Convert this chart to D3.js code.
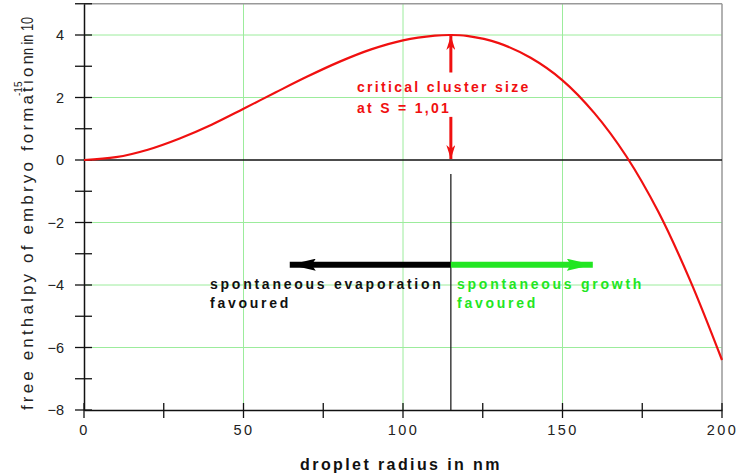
<!DOCTYPE html>
<html>
<head>
<meta charset="utf-8">
<script src="https://cdn.jsdelivr.net/npm/d3@7"></script>
<style>
  html, body { margin: 0; padding: 0; background: #fff; }
  svg { display: block; font-family: Arial, "Liberation Sans", sans-serif; }
</style>
</head>
<body>
<svg id="chart" width="737" height="475"></svg>
<script>
// Free enthalpy of embryo formation vs droplet radius
const radiusNm = [0, 10, 20, 30, 40, 50, 60, 70, 80, 90, 100, 110, 115, 120, 130, 140, 150, 160, 170, 180, 190, 200];
const enthalpy = [0, 0.09, 0.33, 0.69, 1.13, 1.64, 2.16, 2.67, 3.14, 3.54, 3.83, 3.98, 4.0, 3.97, 3.74, 3.27, 2.55, 1.5, 0.12, -1.65, -3.85, -6.4];
const xTicksMajor = [0, 50, 100, 150, 200];
const xTicksMinor = [25, 75, 125, 175];
const yTicksMajor = [-8, -6, -4, -2, 0, 2, 4];
const yTicksMinor = [-7, -5, -3, -1, 1, 3, 5];
const xGrid = [50, 100, 150];
const yGrid = [-6, -4, -2, 2, 4];
const criticalRadius = [115];
const criticalValue = [4];

const svg = d3.select("#chart");
const x = d3.scaleLinear().domain([0, 200]).range([84, 722]);
const y = d3.scaleLinear().domain([-8, 5]).range([410, 3.75]);

const RED = "#f01010", GREEN = "#22e622", GRID = "#9cec9c";

// grid
svg.append("g").selectAll("line").data(xGrid).join("line")
  .attr("x1", d => x(d)).attr("x2", d => x(d)).attr("y1", y(5)).attr("y2", y(-8))
  .attr("stroke", GRID).attr("stroke-width", 1);
svg.append("g").selectAll("line").data(yGrid).join("line")
  .attr("x1", x(0)).attr("x2", x(200)).attr("y1", d => y(d)).attr("y2", d => y(d))
  .attr("stroke", GRID).attr("stroke-width", 1);

// frame (top / right)
svg.append("line").attr("x1", x(0)).attr("x2", x(200)).attr("y1", y(5)).attr("y2", y(5))
  .attr("stroke", "#999").attr("stroke-width", 1.5);
svg.append("line").attr("x1", x(200)).attr("x2", x(200)).attr("y1", y(5)).attr("y2", y(-8))
  .attr("stroke", "#999").attr("stroke-width", 1.5);

// zero line
svg.append("line").attr("x1", x(0)).attr("x2", x(200)).attr("y1", y(0)).attr("y2", y(0))
  .attr("stroke", "#111").attr("stroke-width", 1.3);

// critical radius marker line
svg.append("line").attr("x1", x(criticalRadius[0])).attr("x2", x(criticalRadius[0]))
  .attr("y1", y(-0.45)).attr("y2", y(-8)).attr("stroke", "#222").attr("stroke-width", 1.3);

// axes
const xAxis = d3.axisBottom(x).tickValues(xTicksMajor).tickSize(0).tickPadding(15)
  .tickFormat(d3.format("d"));
const gx = svg.append("g").attr("transform", `translate(0,${y(-8)})`).call(xAxis);
gx.select(".domain").attr("stroke", "#111").attr("stroke-width", 1.5);
gx.selectAll("text").attr("font-size", 14.5).attr("letter-spacing", "2.4px").attr("fill", "#222")
  .attr("font-family", "Arial, 'Liberation Sans', sans-serif");
svg.append("g").selectAll("line").data(xTicksMajor.concat(xTicksMinor)).join("line")
  .attr("x1", d => x(d)).attr("x2", d => x(d)).attr("y1", y(-8) - 7).attr("y2", y(-8) + 8)
  .attr("stroke", "#111").attr("stroke-width", 1.3);

const yAxis = d3.axisLeft(y).tickValues(yTicksMajor).tickSize(0).tickPadding(20);
const gy = svg.append("g").attr("transform", `translate(${x(0)},0)`).call(yAxis);
gy.select(".domain").attr("stroke", "#111").attr("stroke-width", 1.5);
gy.selectAll("text").attr("font-size", 14.5).attr("fill", "#222")
  .attr("font-family", "Arial, 'Liberation Sans', sans-serif");
svg.append("g").selectAll("line").data(yTicksMajor.concat(yTicksMinor)).join("line")
  .attr("x1", x(0) - 9).attr("x2", x(0) + 8).attr("y1", d => y(d)).attr("y2", d => y(d))
  .attr("stroke", "#111").attr("stroke-width", 1.3);

// curve
const line = d3.line().x((d, i) => x(radiusNm[i])).y(d => y(d)).curve(d3.curveCatmullRom);
svg.append("path").datum(enthalpy).attr("d", line)
  .attr("fill", "none").attr("stroke", RED).attr("stroke-width", 2.2);

// arrows
const defs = svg.append("defs");
function marker(id, color, w, h) {
  defs.append("marker").attr("id", id).attr("viewBox", `0 0 ${w} ${h}`)
    .attr("refX", w).attr("refY", h / 2).attr("markerWidth", w).attr("markerHeight", h)
    .attr("markerUnits", "userSpaceOnUse").attr("orient", "auto")
    .append("path").attr("d", `M0,0L${w},${h / 2}L0,${h}L4,${h / 2}Z`).attr("fill", color);
}
marker("hRed", RED, 14, 9);
marker("hBlack", "#000", 26, 12);
marker("hGreen", GREEN, 26, 12);

const cx = x(criticalRadius[0]);
svg.append("line").attr("x1", cx).attr("x2", cx).attr("y1", y(2.8)).attr("y2", y(criticalValue[0]) + 1)
  .attr("stroke", RED).attr("stroke-width", 3).attr("marker-end", "url(#hRed)");
svg.append("line").attr("x1", cx).attr("x2", cx).attr("y1", y(1.38)).attr("y2", y(0) - 1)
  .attr("stroke", RED).attr("stroke-width", 3).attr("marker-end", "url(#hRed)");

const ay = y(-3.35);
svg.append("line").attr("x1", cx).attr("x2", x(64.5)).attr("y1", ay).attr("y2", ay)
  .attr("stroke", "#000").attr("stroke-width", 6).attr("marker-end", "url(#hBlack)");
svg.append("line").attr("x1", cx).attr("x2", x(159.5)).attr("y1", ay).attr("y2", ay)
  .attr("stroke", GREEN).attr("stroke-width", 6).attr("marker-end", "url(#hGreen)");

// annotation texts
function label(txt, px, py, color, size, spacing) {
  return svg.append("text").attr("x", px).attr("y", py).attr("fill", color)
    .attr("font-size", size).attr("font-weight", "bold").attr("letter-spacing", spacing + "px")
    .text(txt);
}
label("critical cluster size", 357, 92, RED, 14, 2.3);
label("at S = 1,01", 357, 113, RED, 14, 2.3);
label("spontaneous evaporation", 210, 289, "#111", 14, 2.75);
label("favoured", 210, 308, "#111", 14, 2.75);
label("spontaneous growth", 457, 289, GREEN, 14, 2.75);
label("favoured", 457, 308, GREEN, 14, 2.75);

// axis titles
svg.append("text").attr("x", 401).attr("y", 470).attr("text-anchor", "middle")
  .attr("font-size", 16).attr("font-weight", "bold").attr("letter-spacing", "2.4px")
  .attr("fill", "#111").text("droplet radius in nm");

svg.append("text").attr("transform", "translate(33,410) rotate(-90)")
  .attr("font-size", 17).attr("fill", "#222")
  .attr("textLength", 355).attr("lengthAdjust", "spacing")
  .text("free enthalpy of embryo formation");
svg.append("text").attr("transform", "translate(33,55) rotate(-90)")
  .attr("font-size", 17).attr("fill", "#222")
  .attr("textLength", 38).attr("lengthAdjust", "spacingAndGlyphs").text("n in 10");
svg.append("rect").attr("x", 12).attr("y", 74).attr("width", 11).attr("height", 22).attr("fill", "#fff");
svg.append("text").attr("transform", "translate(22,96) rotate(-90)")
  .attr("font-size", 10).attr("fill", "#222").text("-15");
</script>
</body>
</html>
